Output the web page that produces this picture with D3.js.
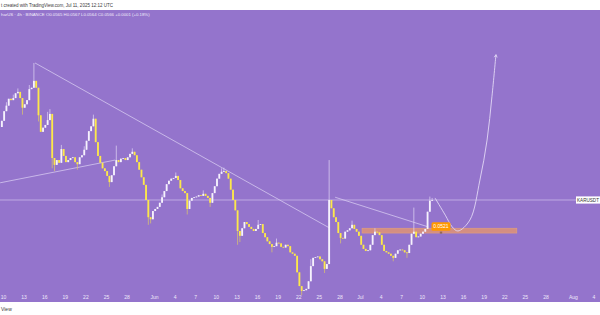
<!DOCTYPE html>
<html>
<head>
<meta charset="utf-8">
<script src="https://cdn.jsdelivr.net/npm/d3@7"></script>
<style>
  html, body { margin: 0; padding: 0; background: #fff; }
  svg { display: block; font-family: "Liberation Sans", Arial, sans-serif; }
</style>
</head>
<body>
<svg id="chart"></svg>
<script>
// KAR/USDT, resampled to 8h candles
const firstCandle = Date.UTC(2025, 4, 9, 16)
const candleMs = 8 * 3600 * 1000
const firstOpen = 0.0672
const closes = [
  0.0681, 0.0695, 0.0703, 0.0713, 0.0711, 0.0714, 0.0721, 0.0723, 0.0714, 0.0700,
  0.0705, 0.0711, 0.0727, 0.0729, 0.0739, 0.0729, 0.0689, 0.0665, 0.0671, 0.0675,
  0.0682, 0.0691, 0.0627, 0.0617, 0.0624, 0.0620, 0.0640, 0.0630, 0.0621, 0.0624,
  0.0627, 0.0628, 0.0621, 0.0618, 0.0628, 0.0631, 0.0639, 0.0652, 0.0666, 0.0673,
  0.0684, 0.0650, 0.0630, 0.0620, 0.0612, 0.0608, 0.0601, 0.0592, 0.0602, 0.0615,
  0.0624, 0.0621, 0.0626, 0.0627, 0.0624, 0.0628, 0.0633, 0.0636, 0.0631, 0.0621,
  0.0610, 0.0599, 0.0588, 0.0566, 0.0541, 0.0538, 0.0550, 0.0553, 0.0556, 0.0562,
  0.0570, 0.0579, 0.0589, 0.0594, 0.0597, 0.0598, 0.0601, 0.0595, 0.0583, 0.0579,
  0.0576, 0.0553, 0.0565, 0.0569, 0.0570, 0.0571, 0.0573, 0.0572, 0.0575, 0.0572,
  0.0569, 0.0562, 0.0576, 0.0586, 0.0597, 0.0604, 0.0607, 0.0608, 0.0605, 0.0597,
  0.0581, 0.0566, 0.0551, 0.0521, 0.0514, 0.0525, 0.0534, 0.0531, 0.0527, 0.0524,
  0.0521, 0.0524, 0.0530, 0.0531, 0.0518, 0.0512, 0.0506, 0.0502, 0.0498, 0.0499,
  0.0504, 0.0503, 0.0498, 0.0497, 0.0501, 0.0499, 0.0490, 0.0488, 0.0485, 0.0461,
  0.0441, 0.0434, 0.0435, 0.0437, 0.0448, 0.0470, 0.0482, 0.0483, 0.0484, 0.0480,
  0.0477, 0.0466, 0.0473, 0.0566, 0.0554, 0.0541, 0.0534, 0.0518, 0.0511, 0.0510,
  0.0520, 0.0522, 0.0525, 0.0530, 0.0524, 0.0520, 0.0514, 0.0501, 0.0495, 0.0492,
  0.0493, 0.0501, 0.0515, 0.0520, 0.0519, 0.0515, 0.0501, 0.0492, 0.0490, 0.0488,
  0.0485, 0.0482, 0.0488, 0.0493, 0.0494, 0.0493, 0.0490, 0.0489, 0.0501, 0.0517,
  0.0520, 0.0512, 0.0513, 0.0517, 0.0520, 0.0524, 0.0549, 0.0565, 0.0566
]
// [candle index, price] for wicks that stick out of the body
const wickHighs = [[2, 0.0708], [5, 0.0719], [7, 0.0728], [12, 0.0733], [14, 0.0765], [20, 0.0694],
  [21, 0.0698], [26, 0.0646], [36, 0.0644], [40, 0.0690], [50, 0.0645], [57, 0.0641], [70, 0.0574],
  [76, 0.0606], [88, 0.0580], [96, 0.0612], [97, 0.0613], [112, 0.0537], [120, 0.0510], [135, 0.0480],
  [143, 0.0624], [153, 0.0536], [163, 0.0525], [180, 0.0555], [187, 0.0571], [188, 0.0569]]
const wickLows = [[9, 0.0690], [16, 0.0680], [22, 0.0612], [23, 0.0608], [33, 0.0610], [47, 0.0585],
  [64, 0.0530], [65, 0.0532], [81, 0.0545], [91, 0.0556], [103, 0.0501], [104, 0.0505], [118, 0.0490],
  [131, 0.0428], [141, 0.0460], [148, 0.0503], [171, 0.0477], [177, 0.0482]]

// drawings on the chart
const trendDown = [["2025-05-14T16:00Z", 0.0765], ["2025-06-26T15:00Z", 0.0525]]
const trendDown2 = [["2025-06-27T09:00Z", 0.0570], ["2025-07-10T22:00Z", 0.0527]]
const trendUp = [["2025-05-09T14:00Z", 0.0591], ["2025-05-26T08:00Z", 0.0624]]
const projection = [["2025-07-11T22:00Z", 0.0569], ["2025-07-13T10:00Z", 0.0544], ["2025-07-14T10:00Z", 0.0527],
  ["2025-07-15T06:00Z", 0.0521], ["2025-07-17T00:00Z", 0.0537], ["2025-07-18T11:00Z", 0.0595],
  ["2025-07-19T12:00Z", 0.0653], ["2025-07-20T05:00Z", 0.0716], ["2025-07-20T19:00Z", 0.0777]]
const zoneDates = ["2025-07-01T07:00Z", "2025-07-23T20:00Z"]
const zonePrices = [0.0525, 0.0518]
const zoneLabel = 0.0521
const zoneLabelDate = "2025-07-12T19:00Z"
const lastPrice = 0.0566

const tickDates = ["2025-05-10", "2025-05-13", "2025-05-16", "2025-05-19", "2025-05-22", "2025-05-25", "2025-05-28",
  "2025-06-01", "2025-06-04", "2025-06-07", "2025-06-10", "2025-06-13", "2025-06-16", "2025-06-19", "2025-06-22",
  "2025-06-25", "2025-06-28", "2025-07-01", "2025-07-04", "2025-07-07", "2025-07-10", "2025-07-13", "2025-07-16",
  "2025-07-19", "2025-07-22", "2025-07-25", "2025-07-28", "2025-08-01", "2025-08-04"]
const monthNames = ["Jan", "Feb", "Mar", "Apr", "May", "Jun", "Jul", "Aug", "Sep", "Oct", "Nov", "Dec"]

const width = 600
const height = 315
const plotTop = 10
const plotBottom = 302

const svg = d3.select("#chart").attr("width", width).attr("height", height)

const x = d3.scaleUtc()
    .domain([new Date(Date.UTC(2025, 4, 10)), new Date(Date.UTC(2025, 7, 4))])
    .range([3, 593.5])
const y = d3.scaleLinear()
    .domain([0.04179, 0.08419])
    .range([plotBottom, plotTop])

// build candles from the close list
const highMap = new Map(wickHighs)
const lowMap = new Map(wickLows)
const candles = closes.map((c, i) => {
    const o = i === 0 ? firstOpen : closes[i - 1]
    return {
        t: new Date(firstCandle + candleMs * i + candleMs / 2),
        o: o, c: c,
        h: Math.max(o, c, highMap.get(i) || 0),
        l: Math.min(o, c, lowMap.get(i) || 1)
    }
})

// background
svg.append("rect").attr("width", width).attr("height", height).attr("fill", "#ffffff")
svg.append("rect").attr("y", plotTop).attr("width", width).attr("height", plotBottom - plotTop).attr("fill", "#9474cc")

// header texts (the screenshot is cropped on the left, keep what is visible)
svg.append("text").attr("x", 1).attr("y", 7.3)
    .attr("font-size", 4.5).attr("fill", "#3a3a3a")
    .text("t created with TradingView.com, Jul 11, 2025 12:12 UTC")
svg.append("text").attr("x", 1).attr("y", 16.3)
    .attr("font-size", 4.3).attr("fill", "#f2ecfb")
    .text("harUS · 4h · BINANCE  O0.0565  H0.0567  L0.0564  C0.0566  +0.0001 (+0.18%)")
svg.append("text").attr("x", 1).attr("y", 310.5)
    .attr("font-size", 5).attr("fill", "#3a3a3a")
    .text("View")

// current price line
svg.append("line")
    .attr("x1", 0).attr("x2", width)
    .attr("y1", y(lastPrice)).attr("y2", y(lastPrice))
    .attr("stroke", "#c9b8ea").attr("stroke-width", 0.8)

// zone
svg.append("rect")
    .attr("x", x(new Date(zoneDates[0])))
    .attr("width", x(new Date(zoneDates[1])) - x(new Date(zoneDates[0])))
    .attr("y", y(zonePrices[0]))
    .attr("height", y(zonePrices[1]) - y(zonePrices[0]))
    .attr("fill", "#da917a").attr("fill-opacity", 0.9)
    .attr("stroke", "#e4a27c").attr("stroke-width", 0.6)

// trend lines
const lineGen = d3.line().x(d => x(new Date(d[0]))).y(d => y(d[1]))
const lines = [trendDown, trendDown2, trendUp]
svg.selectAll("path.trend")
    .data(lines)
    .join("path")
    .attr("class", "trend")
    .attr("d", lineGen)
    .attr("fill", "none")
    .attr("stroke", "#d6c8f0")
    .attr("stroke-width", 0.8)

// candles
const bw = (x(new Date(firstCandle + candleMs)) - x(new Date(firstCandle))) * 0.8
const up = "#f6f2fd"
const down = "#fde84a"
const cg = svg.append("g")
cg.selectAll("line")
    .data(candles)
    .join("line")
    .attr("x1", d => x(d.t)).attr("x2", d => x(d.t))
    .attr("y1", d => y(d.h)).attr("y2", d => y(d.l))
    .attr("stroke", d => d.c >= d.o ? "#dcd0f2" : "#d9c36e")
    .attr("stroke-opacity", 0.85)
    .attr("stroke-width", 0.9)
cg.selectAll("rect")
    .data(candles)
    .join("rect")
    .attr("x", d => x(d.t) - bw / 2)
    .attr("width", bw)
    .attr("y", d => y(Math.max(d.o, d.c)))
    .attr("height", d => Math.max(0.8, Math.abs(y(d.o) - y(d.c))))
    .attr("fill", d => d.c >= d.o ? up : down)

// projected path
const curveGen = d3.line().curve(d3.curveCatmullRom.alpha(0.5))
    .x(d => x(new Date(d[0]))).y(d => y(d[1]))
svg.append("path")
    .attr("d", curveGen(projection))
    .attr("fill", "none")
    .attr("stroke", "#e2d8f5")
    .attr("stroke-width", 0.9)
const tip = projection[projection.length - 1]
const prev = projection[projection.length - 2]
const tx = x(new Date(tip[0])), ty = y(tip[1])
const ang = Math.atan2(ty - y(prev[1]), tx - x(new Date(prev[0])))
svg.append("path")
    .attr("d", `M${tx - 3 * Math.cos(ang - 0.5)},${ty - 3 * Math.sin(ang - 0.5)}L${tx},${ty}L${tx - 3 * Math.cos(ang + 0.5)},${ty - 3 * Math.sin(ang + 0.5)}`)
    .attr("fill", "none").attr("stroke", "#e2d8f5").attr("stroke-width", 0.9)

// zone price label
const lx = x(new Date(zoneLabelDate))
const ly = y(zoneLabel) - 4.5
svg.append("rect")
    .attr("x", lx - 9.5).attr("y", ly - 4.2).attr("width", 19).attr("height", 8.4)
    .attr("rx", 1.5).attr("fill", "#ff9800")
svg.append("text")
    .attr("x", lx).attr("y", ly).attr("dy", "0.35em")
    .attr("text-anchor", "middle").attr("font-size", 5).attr("fill", "#ffffff")
    .text(zoneLabel.toFixed(4))
svg.append("rect")
    .attr("x", lx - 1.2).attr("y", y(zoneLabel) + 0.6).attr("width", 2.4).attr("height", 2)
    .attr("fill", "#7a5a3a").attr("fill-opacity", 0.7)

// symbol label on the price line
svg.append("rect")
    .attr("x", 576).attr("y", y(lastPrice) - 3.6).attr("width", 24).attr("height", 7.2)
    .attr("fill", "#ffffff")
svg.append("text")
    .attr("x", 588).attr("y", y(lastPrice)).attr("dy", "0.35em")
    .attr("text-anchor", "middle").attr("font-size", 4.6).attr("fill", "#333")
    .text("KARUSDT")

// time axis
const axis = d3.axisBottom(x)
    .tickValues(tickDates.map(d => new Date(d + "T00:00Z")))
    .tickSize(0)
    .tickPadding(0)
    .tickFormat(d => d.getUTCDate() === 1 ? monthNames[d.getUTCMonth()] : String(d.getUTCDate()))
const ag = svg.append("g").attr("transform", `translate(0,${297.5})`).call(axis)
ag.select(".domain").remove()
ag.selectAll("text")
    .attr("y", 0).attr("dy", "0.35em")
    .attr("font-size", 5).attr("fill", "#efe9fa")
    .attr("font-family", "Liberation Sans, Arial, sans-serif")
</script>
</body>
</html>
